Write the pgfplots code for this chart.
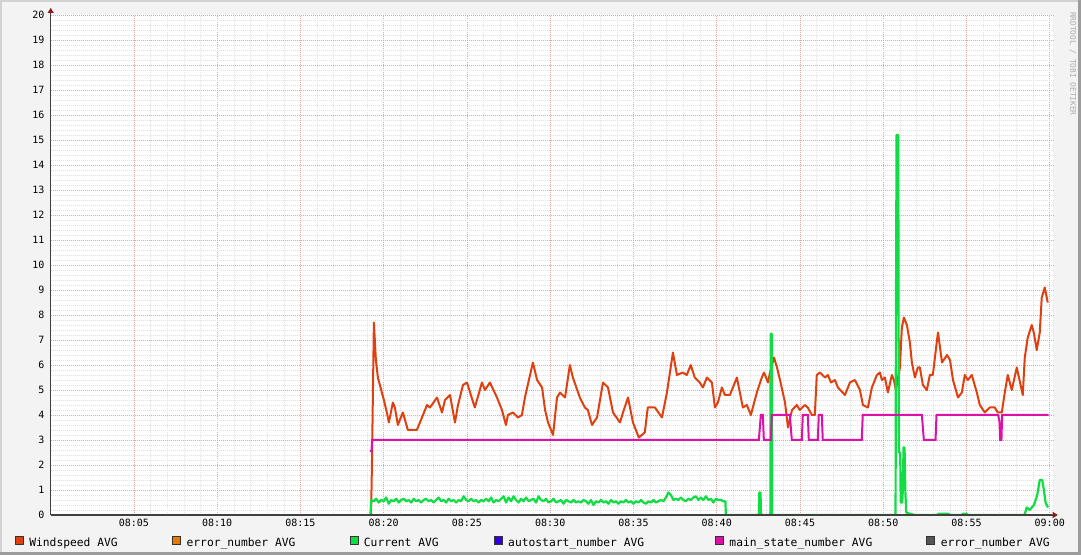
\documentclass[border=0pt]{standalone}
\usepackage{fontspec}
\setmainfont{DejaVu Sans Mono}
\usepackage{pgfplots}
\pgfplotsset{compat=1.18}
\usetikzlibrary{arrows.meta}
\definecolor{windc}{HTML}{DF4010}
\definecolor{errc}{HTML}{E57C00}
\definecolor{curc}{HTML}{10DD44}
\definecolor{autoc}{HTML}{3300DD}
\definecolor{mainc}{HTML}{DD10A8}
\definecolor{err2c}{HTML}{555555}
\definecolor{bgc}{HTML}{F3F3F3}
\definecolor{lightedge}{HTML}{D2D2D2}
\definecolor{darkedge}{HTML}{9C9C9C}
\definecolor{axc}{HTML}{404040}
\definecolor{arrc}{HTML}{8B1A1A}
\definecolor{majgc}{HTML}{E6A6A6}
\definecolor{mingc}{HTML}{E2E2E2}
\begin{document}
\begin{tikzpicture}
\fill[bgc] (0,0) rectangle (1081bp,555bp);
\fill[lightedge] (0,0) rectangle (2bp,555bp);
\fill[lightedge] (0,553bp) rectangle (1081bp,555bp);
\fill[darkedge] (1078bp,0) rectangle (1081bp,555bp);
\fill[darkedge] (0,0) rectangle (1081bp,3bp);
\begin{axis}[
  at={(50.7bp,40bp)}, anchor=south west,
  scale only axis, width=1002bp, height=500bp,
  xmin=0, xmax=60.18, ymin=0, ymax=20,
  axis background/.style={fill=white},
  axis lines=left,
  axis line style={draw=axc, line width=0.9bp},
  x axis line style={-{Triangle[length=5bp,width=6bp,color=arrc]}, shorten >=-5bp},
  y axis line style={-{Triangle[length=5bp,width=6bp,color=arrc]}, shorten >=-7bp},
  xtick={5,10,...,60},
  xticklabels={08:05,08:10,08:15,08:20,08:25,08:30,08:35,08:40,08:45,08:50,08:55,09:00},
  ytick={0,1,...,20},
  minor x tick num=4, minor y tick num=4,
  major tick length=0pt, minor tick length=0pt,
  grid=both,
  major grid style={draw=majgc, dash pattern=on 1bp off 1bp, line width=0.7bp},
  minor grid style={draw=mingc, dash pattern=on 1bp off 1bp, line width=0.6bp},
  /pgf/number format/assume math mode=true,
  ticklabel style={font=\fontsize{10bp}{12bp}\selectfont, text=black},
  yticklabel style={inner sep=0pt, xshift=-6bp},
  xticklabel style={inner sep=0pt, yshift=-4bp},
  legend columns=6,
  legend cell align=left,
  legend style={at={(-0.03563,-0.054)}, anchor=west, draw=none, fill=none,
    inner sep=0pt, outer sep=0pt, column sep=0pt,
    font=\fontsize{11.3bp}{13bp}\selectfont,
    nodes={inner sep=0pt, outer sep=0pt},
    /tikz/every even column/.append style={column sep=0pt},
    /tikz/every odd column/.append style={column sep=0pt}},
  legend image code/.code={\filldraw[#1, draw=black!80, line width=0.6bp, solid] (0bp,-0.5bp) rectangle (8bp,7.5bp); \path[draw=none, fill=none] (0bp,0bp) -- (14bp,0bp);},
]
% Windspeed AVG
\addplot[windc, line width=2bp, line join=round] coordinates {
(19.24,0) (19.29,1.9) (19.41,7.7) (19.53,6.2) (19.65,5.5) (19.89,4.9) (20.01,4.6) (20.19,4.1)
(20.31,3.7) (20.55,4.5) (20.67,4.3) (20.85,3.6) (21.15,4.1) (21.45,3.4) (21.99,3.4) (22.30,3.9)
(22.60,4.4) (22.78,4.3) (23.20,4.7) (23.50,4.1) (23.68,4.6) (23.98,4.8) (24.28,3.7) (24.46,4.4)
(24.76,5.2) (25.00,5.3) (25.47,4.3) (25.90,5.3) (26.08,5.0) (26.38,5.3) (26.80,4.7) (27.10,4.2)
(27.34,3.6) (27.46,4.0) (27.76,4.1) (28.06,3.9) (28.30,4.0) (28.48,4.7) (28.96,6.1) (29.21,5.4)
(29.51,5.1) (29.69,4.2) (29.87,3.7) (30.17,3.2) (30.41,4.7) (30.59,4.9) (30.89,4.7) (31.18,6.0)
(31.36,5.5) (31.78,4.7) (32.08,4.3) (32.26,4.2) (32.51,3.6) (32.81,3.9) (33.17,5.3) (33.47,5.1)
(33.77,4.1) (34.19,3.7) (34.37,4.1) (34.67,4.7) (34.79,4.3) (34.97,3.7) (35.32,3.1) (35.68,3.3)
(35.86,4.3) (36.29,4.3) (36.71,3.9) (37.01,4.9) (37.37,6.5) (37.61,5.6) (37.96,5.7) (38.20,5.6)
(38.44,6.0) (38.68,5.5) (38.98,5.3) (39.17,5.1) (39.41,5.5) (39.71,5.3) (39.89,4.3) (40.07,4.5)
(40.31,5.1) (40.49,4.8) (40.79,4.8) (41.21,5.5) (41.39,4.9) (41.57,4.3) (41.81,4.4) (42.05,4.0)
(42.41,4.9) (42.71,5.5) (42.84,5.7) (43.08,5.3) (43.20,5.7) (43.44,6.3) (43.62,5.9) (43.80,5.4)
(44.10,4.5) (44.28,3.5) (44.52,4.2) (44.81,4.4) (44.99,4.2) (45.29,4.4) (45.47,4.3) (45.71,4.0)
(45.89,4.0) (46.01,5.6) (46.20,5.7) (46.50,5.5) (46.68,5.6) (46.86,5.3) (47.10,5.4) (47.28,5.1)
(47.70,4.8) (48.00,5.3) (48.30,5.4) (48.60,5.0) (48.78,4.4) (49.08,4.3) (49.32,5.1) (49.62,5.6)
(49.80,5.7) (49.92,5.4) (50.10,5.5) (50.28,4.9) (50.52,5.6) (50.64,5.4) (50.76,5.0) (51.00,5.9)
(51.12,7.5) (51.24,7.9) (51.42,7.6) (51.60,6.9) (51.72,6.1) (51.90,5.5) (52.08,5.9) (52.20,5.9)
(52.38,5.2) (52.62,5.0) (52.80,5.6) (52.98,5.6) (53.23,7.0) (53.29,7.3) (53.53,6.1) (53.83,6.4)
(54.01,6.2) (54.19,5.4) (54.49,4.7) (54.72,4.9) (54.90,5.6) (55.08,5.4) (55.32,5.6) (55.62,4.9)
(55.80,4.4) (56.10,4.1) (56.40,4.3) (56.70,4.3) (56.88,4.1) (57.12,4.1) (57.30,4.9) (57.48,5.6)
(57.72,5.0) (58.02,5.9) (58.38,4.8) (58.50,6.3) (58.68,7.1) (58.92,7.6) (59.04,7.3) (59.22,6.6)
(59.40,7.3) (59.52,8.7) (59.70,9.1) (59.88,8.5)
};
\addlegendentry{\makebox[143bp][l]{Windspeed AVG}}
\addlegendimage{errc}
\addlegendentry{\makebox[163bp][l]{error\_number AVG}}
% Current AVG
\addplot[curc, line width=2.2bp, line join=round] coordinates {
(19.20,0) (19.25,0.6) (19.40,0.55) (19.55,0.65) (19.70,0.5) (19.85,0.6) (20.00,0.55) (20.15,0.7)
(20.30,0.45) (20.45,0.6) (20.60,0.55) (20.75,0.65) (20.90,0.5) (21.05,0.6) (21.20,0.65) (21.35,0.55)
(21.50,0.6) (21.65,0.5) (21.80,0.65) (21.95,0.55) (22.10,0.6) (22.25,0.5) (22.40,0.6) (22.55,0.65)
(22.70,0.55) (22.85,0.6) (23.00,0.5) (23.15,0.6) (23.30,0.7) (23.45,0.55) (23.60,0.6) (23.75,0.5)
(23.90,0.65) (24.05,0.55) (24.20,0.6) (24.35,0.5) (24.50,0.6) (24.65,0.55) (24.80,0.75) (24.95,0.6)
(25.10,0.55) (25.25,0.65) (25.40,0.55) (25.55,0.6) (25.70,0.5) (25.85,0.6) (26.00,0.55) (26.15,0.65)
(26.30,0.55) (26.45,0.7) (26.60,0.5) (26.75,0.6) (26.90,0.55) (27.05,0.65) (27.20,0.75) (27.35,0.5)
(27.50,0.7) (27.65,0.55) (27.80,0.75) (27.95,0.6) (28.10,0.5) (28.25,0.65) (28.40,0.55) (28.55,0.7)
(28.70,0.55) (28.85,0.6) (29.00,0.65) (29.15,0.5) (29.30,0.75) (29.45,0.6) (29.60,0.55) (29.75,0.65)
(29.90,0.5) (30.05,0.55) (30.20,0.65) (30.35,0.5) (30.50,0.55) (30.65,0.6) (30.80,0.45) (30.95,0.6)
(31.10,0.55) (31.25,0.5) (31.40,0.6) (31.55,0.5) (31.70,0.55) (31.85,0.5) (32.00,0.6) (32.15,0.55)
(32.30,0.45) (32.45,0.6) (32.60,0.4) (32.75,0.55) (32.90,0.5) (33.05,0.6) (33.20,0.5) (33.35,0.55)
(33.50,0.45) (33.65,0.6) (33.80,0.5) (33.95,0.55) (34.10,0.45) (34.25,0.55) (34.40,0.5) (34.55,0.6)
(34.70,0.5) (34.85,0.55) (35.00,0.45) (35.15,0.55) (35.30,0.5) (35.45,0.6) (35.60,0.5) (35.75,0.45)
(35.90,0.55) (36.05,0.5) (36.20,0.6) (36.35,0.5) (36.50,0.55) (36.65,0.6) (36.80,0.55) (36.95,0.7)
(37.10,0.9) (37.25,0.8) (37.40,0.6) (37.55,0.65) (37.70,0.6) (37.85,0.7) (38.00,0.6) (38.15,0.55)
(38.30,0.65) (38.45,0.6) (38.60,0.7) (38.75,0.75) (38.90,0.6) (39.05,0.7) (39.20,0.6) (39.35,0.75)
(39.50,0.6) (39.65,0.65) (39.80,0.5) (39.95,0.65) (40.10,0.6) (40.25,0.6) (40.40,0.55) (40.52,0.55)
(40.55,0) (42.53,0) (42.56,0.9) (42.63,0.9) (42.66,0) (43.22,0) (43.24,7.25) (43.30,7.25) (43.32,0)
(50.74,0) (50.76,6.8) (50.80,15.2) (50.90,15.2) (50.94,2.5) (51.02,2.5) (51.05,0.5) (51.14,0.5)
(51.17,0.9) (51.22,2.7) (51.28,2.7) (51.33,0.9) (51.38,0.1) (51.60,0.05) (51.90,0) (53.20,0)
(53.35,0.05) (53.90,0.05) (54.05,0) (54.70,0) (54.80,0.05) (55.00,0.05) (55.10,0) (58.48,0)
(58.62,0.3) (58.80,0.2) (59.05,0.4) (59.25,0.8) (59.40,1.4) (59.55,1.4) (59.65,1.0) (59.75,0.5) (59.90,0.3)
};
\addlegendentry{\makebox[130bp][l]{Current AVG}}
\addlegendimage{autoc}
\addlegendentry{\makebox[207bp][l]{autostart\_number AVG}}
% main_state_number AVG
\addplot[mainc, line width=2bp] coordinates {
(19.17,2.55) (19.27,2.55) (19.30,3) (42.53,3) (42.65,4) (42.77,4) (42.83,3) (43.25,3) (43.31,4)
(44.39,4) (44.51,3) (45.11,3) (45.17,4) (45.47,4) (45.53,3) (46.07,3) (46.13,4) (46.31,4) (46.37,3)
(48.71,3) (48.77,4) (52.32,4) (52.44,3) (53.14,3) (53.20,4) (56.90,4) (56.98,3.75) (57.02,3)
(57.10,3) (57.14,4) (59.94,4)
};
\addlegendentry{\makebox[197bp][l]{main\_state\_number AVG}}
\addlegendimage{err2c}
\addlegendentry{error\_number AVG}
% x axis line redrawn over the series, as the reference draws it
\draw[axc, line width=2.2bp] (rel axis cs:0,0) -- (rel axis cs:1,0);
\end{axis}
\node[rotate=-90, anchor=west, inner sep=0pt, text=black!32, font=\fontsize{7.8bp}{9bp}\selectfont] at (1073bp,543bp) {RRDTOOL / TOBI OETIKER};
\pgfresetboundingbox
\useasboundingbox (0,0) rectangle (1081bp,555bp);
\end{tikzpicture}
\end{document}
